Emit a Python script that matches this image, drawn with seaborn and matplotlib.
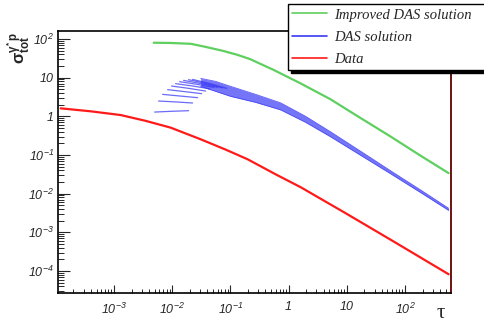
import numpy as np
import pandas as pd
import matplotlib
matplotlib.use("Agg")
import matplotlib.pyplot as plt
import matplotlib.ticker as mticker
import seaborn as sns

# ---------------- data ----------------
red_tau = [1.21e-4, 3.96e-4, 1.30e-3, 3.49e-3, 9.4e-3, 0.0308, 0.0827, 0.198, 0.598, 1.61, 9.53, 56.6, 561]
red_sig = [1.61, 1.35, 1.08, 0.765, 0.51, 0.255, 0.138, 0.0774, 0.0317, 0.0147, 0.00313, 6.45e-4, 8.26e-5]

green_tau = [0.0048, 0.0094, 0.021, 0.0375, 0.076, 0.133, 0.22, 0.55, 1.61, 5.27, 17.3, 56.6, 185, 561]
green_sig = [80, 79, 75, 62.5, 49, 38.8, 30, 15.9, 7.1, 2.75, 0.90, 0.30, 0.096, 0.034]

# main DAS band (upper / lower edges)
band_tau = [0.0308, 0.0557, 0.1007, 0.271, 0.729, 1.96, 5.27, 17.3, 56.6, 185, 561]
band_up = [9.59, 8.02, 5.96, 3.70, 2.23, 1.0, 0.397, 0.125, 0.0391, 0.0125, 0.0042]
band_lo = [5.96, 4.43, 3.29, 2.30, 1.47, 0.70, 0.295, 0.098, 0.0327, 0.0107, 0.0037]

# DAS fan of short curves at small tau (start, middle, end)
fan_tau_s = [0.00499, 0.00583, 0.00684, 0.00834, 0.00977, 0.01143, 0.0134, 0.0157, 0.0191, 0.0224]
fan_tau_m = [0.00976, 0.01141, 0.01339, 0.01633, 0.01914, 0.02243, 0.02624, 0.03074, 0.03747, 0.04391]
fan_tau_e = [0.0191, 0.0224, 0.0273, 0.0320, 0.0375, 0.0440, 0.0514, 0.0603, 0.0735, 0.0861]
fan_sig_s = [1.29, 2.49, 3.70, 4.90, 6.07, 7.00, 7.88, 8.51, 8.87, 9.03]
fan_sig_m = [1.35, 2.36, 3.36, 4.36, 5.30, 6.10, 6.75, 7.05, 7.10, 7.05]
fan_sig_e = [1.40, 2.21, 3.04, 3.86, 4.51, 5.14, 5.61, 5.61, 5.45, 5.29]

ytick_vals = [1e-4, 1e-3, 1e-2, 1e-1, 1, 10, 100]
ytick_labels = [r"$\mathdefault{10^{-4}}$", r"$\mathdefault{10^{-3}}$", r"$\mathdefault{10^{-2}}$",
                r"$\mathdefault{10^{-1}}$", "1", "10", r"$\mathdefault{10^{2}}$"]
xtick_vals = [1e-3, 1e-2, 1e-1, 1, 10, 100]
xtick_labels = [r"$\mathdefault{10^{-3}}$", r"$\mathdefault{10^{-2}}$", r"$\mathdefault{10^{-1}}$",
                "1", "10", r"$\mathdefault{10^{2}}$"]

legend_labels = ["Improved DAS solution", "DAS solution", "Data"]

# ---------------- style ----------------
sns.set_style("white")
plt.rcParams["font.family"] = ["Liberation Sans", "DejaVu Sans"]
plt.rcParams["mathtext.fontset"] = "custom"
plt.rcParams["mathtext.rm"] = "Liberation Sans:italic"
plt.rcParams["mathtext.it"] = "Liberation Sans:italic"
plt.rcParams["mathtext.bf"] = "Liberation Sans:bold"

GREEN = "#5fcf5f"
BLUE = "#3a3af5"
RED = "#ff1a1a"

fig = plt.figure(figsize=(4.84, 3.26), dpi=100)
ax = fig.add_axes([58 / 484, 1 - 293 / 326, (451 - 58) / 484, (293 - 31) / 326])

# red data
sns.lineplot(x=red_tau, y=red_sig, ax=ax, color=RED, lw=1.6, estimator=None, sort=False)
# green improved solution
sns.lineplot(x=green_tau, y=green_sig, ax=ax, color=GREEN, lw=1.6, estimator=None, sort=False)

# blue fan
fan_rows = []
for i in range(len(fan_tau_s)):
    fan_rows.append((i, fan_tau_s[i], fan_sig_s[i]))
    fan_rows.append((i, fan_tau_m[i], fan_sig_m[i]))
    fan_rows.append((i, fan_tau_e[i], fan_sig_e[i]))
fan_df = pd.DataFrame(fan_rows, columns=["seg", "tau", "sig"])
sns.lineplot(data=fan_df, x="tau", y="sig", units="seg", estimator=None, sort=False,
             ax=ax, color=BLUE, lw=0.9, alpha=0.75)

# blue band
ax.fill_between(band_tau, band_lo, band_up, color=BLUE, alpha=0.7, lw=0)
sns.lineplot(x=band_tau, y=band_up, ax=ax, color=BLUE, lw=0.6, alpha=0.8, estimator=None, sort=False)
sns.lineplot(x=band_tau, y=band_lo, ax=ax, color=BLUE, lw=0.6, alpha=0.8, estimator=None, sort=False)

ax.set_xscale("log")
ax.set_yscale("log")
ax.set_xlim(1.09e-4, 617)
ax.set_ylim(2.7e-5, 161)

ax.xaxis.set_major_locator(mticker.FixedLocator(xtick_vals))
ax.xaxis.set_major_formatter(mticker.FixedFormatter(xtick_labels))
ax.yaxis.set_major_locator(mticker.FixedLocator(ytick_vals))
ax.yaxis.set_major_formatter(mticker.FixedFormatter(ytick_labels))
ax.xaxis.set_minor_locator(mticker.LogLocator(base=10, subs=np.arange(2, 10), numticks=30))
ax.yaxis.set_minor_locator(mticker.LogLocator(base=10, subs=np.arange(2, 10), numticks=30))
ax.xaxis.set_minor_formatter(mticker.NullFormatter())
ax.yaxis.set_minor_formatter(mticker.NullFormatter())

ax.tick_params(axis="y", which="major", direction="in", length=8.5, width=0.8, pad=3,
               labelsize=9, left=True)
ax.tick_params(axis="y", which="minor", direction="in", length=4.3, width=0.7, left=True)
ax.tick_params(axis="x", which="major", direction="in", length=5.5, width=0.8, pad=6,
               labelsize=9, bottom=True)
ax.tick_params(axis="x", which="minor", direction="in", length=3, width=0.7, bottom=True)
for lab in ax.get_xticklabels() + ax.get_yticklabels():
    lab.set_fontstyle("italic")

for s in ["left", "bottom", "top"]:
    ax.spines[s].set_color("black")
    ax.spines[s].set_linewidth(1.2)
ax.spines["right"].set_color("#6a1212")
ax.spines["right"].set_linewidth(1.4)
ax.set_xlabel("")
ax.set_ylabel("")

# axis titles
fig.text(19 / 484, 1 - 48 / 326, r"$\mathbf{\sigma^{\gamma^{*}\,p}_{tot}}$",
         rotation=90, ha="center", va="center", fontsize=12)
fig.text(441 / 484, 1 - 314 / 326, "τ", ha="center", va="center", fontsize=15,
         family=["Liberation Serif", "DejaVu Serif"])

# legend
handles = [plt.Line2D([], [], color=GREEN, lw=1.2),
           plt.Line2D([], [], color=BLUE, lw=1.2),
           plt.Line2D([], [], color=RED, lw=1.2)]
leg = fig.legend(handles, legend_labels, loc="upper left",
                 bbox_to_anchor=(288 / 484, 1 - 70 / 326, 200 / 484, 66 / 326),
                 mode="expand", borderaxespad=0, frameon=True, fancybox=False,
                 shadow={"color": "black", "alpha": 1.0},
                 prop={"family": ["Liberation Serif", "DejaVu Serif"], "style": "italic", "size": 10.5},
                 handlelength=2.4, handletextpad=0.45, labelspacing=0.62, borderpad=0.3)
leg.get_frame().set_edgecolor("black")
leg.get_frame().set_linewidth(1.0)
leg.get_frame().set_facecolor("white")

fig.savefig("out.png", dpi=100)
